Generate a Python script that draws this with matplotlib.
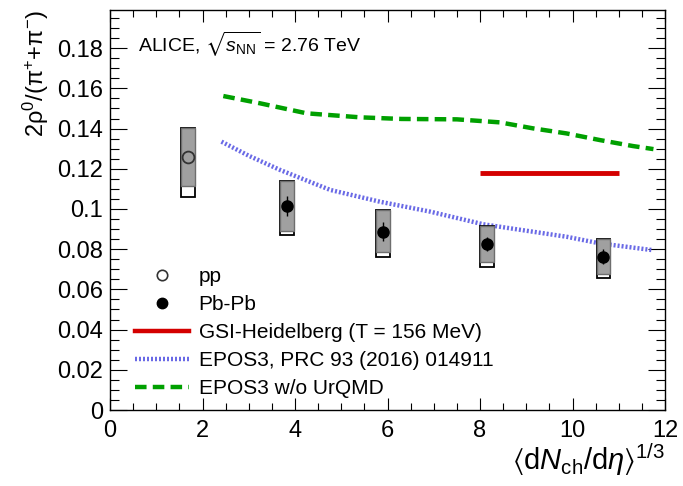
import matplotlib
matplotlib.use("Agg")
import matplotlib.pyplot as plt
from matplotlib.lines import Line2D
from matplotlib.patches import Rectangle
from matplotlib.ticker import MultipleLocator, FuncFormatter

plt.rcParams['font.family'] = ['Liberation Sans', 'DejaVu Sans']
plt.rcParams['mathtext.fontset'] = 'custom'
plt.rcParams['mathtext.rm'] = 'Liberation Sans'
plt.rcParams['mathtext.it'] = 'Liberation Sans:italic'
plt.rcParams['mathtext.bf'] = 'Liberation Sans:bold'
plt.rcParams['mathtext.fallback'] = 'stixsans'

# ---- data ----
pp_x = [1.69]
pp_y = [0.126]
pp_sys_hi = [0.1405]
pp_sys_lo_unc = [0.1114]
pp_sys_lo_tot = [0.1058]

pb_x = [3.82, 5.91, 8.16, 10.67]
pb_y = [0.1015, 0.0887, 0.0826, 0.0763]
pb_stat = [0.0048, 0.0048, 0.0037, 0.0037]
pb_sys_hi = [0.1139, 0.0995, 0.0917, 0.0849]
pb_sys_lo_unc = [0.0892, 0.0785, 0.0736, 0.0675]
pb_sys_lo_tot = [0.0869, 0.0761, 0.0713, 0.0655]

gsi_x = [8.0, 11.0]
gsi_y = [0.1177, 0.1177]

epos_x = [2.41, 3.0, 3.68, 4.76, 5.84, 6.92, 8.07, 9.87, 10.59, 11.71]
epos_y = [0.1335, 0.1265, 0.1194, 0.1095, 0.1036, 0.0987, 0.0924, 0.0862, 0.0829, 0.0796]

eposnu_x = [2.45, 3.24, 4.25, 5.41, 6.3, 7.5, 8.43, 9.15, 9.87, 10.59, 11.31, 11.75]
eposnu_y = [0.1562, 0.1526, 0.1476, 0.1456, 0.1448, 0.1446, 0.1431, 0.1401, 0.1376, 0.1343, 0.1313, 0.1298]

box_halfwidth = 0.15

fig = plt.figure(figsize=(6.83, 4.86), dpi=100)
ax = fig.add_axes([110/683, 76/486, 555/683, 400/486])
ax.set_xlim(0, 12)
ax.set_ylim(0, 0.199)

red = '#d40000'
blue = '#6a6ae6'
green = '#00a000'

# models
ax.plot(eposnu_x, eposnu_y, color=green, lw=3.2, dashes=(2.6, 1.4), solid_capstyle='butt', zorder=2)
ax.plot(epos_x, epos_y, color=blue, lw=3.2, dashes=(0.45, 0.45), zorder=2)
ax.plot(gsi_x, gsi_y, color=red, lw=3.5, solid_capstyle='butt', zorder=2)

def draw_boxes(xs, his, lo_unc, lo_tot):
    for x, hi, lu, lt in zip(xs, his, lo_unc, lo_tot):
        ax.add_patch(Rectangle((x - box_halfwidth, lt), 2*box_halfwidth, hi - lt,
                               facecolor='white', edgecolor='black', lw=1.3, zorder=3))
        ax.add_patch(Rectangle((x - box_halfwidth, lu), 2*box_halfwidth, hi - lu,
                               facecolor='#a0a0a0', edgecolor='#6e6e6e', lw=1.0, zorder=3))

draw_boxes(pp_x, pp_sys_hi, pp_sys_lo_unc, pp_sys_lo_tot)
draw_boxes(pb_x, pb_sys_hi, pb_sys_lo_unc, pb_sys_lo_tot)

ax.errorbar(pb_x, pb_y, yerr=pb_stat, fmt='o', color='black', ms=8, elinewidth=1.0,
            capsize=0, zorder=5)
ax.plot(pp_x, pp_y, 'o', mfc='none', mec='#333333', mew=1.3, ms=8.5, zorder=5)

# axes style
ax.xaxis.set_major_locator(MultipleLocator(2))
ax.xaxis.set_minor_locator(MultipleLocator(0.5))
ax.yaxis.set_major_locator(MultipleLocator(0.02))
ax.yaxis.set_minor_locator(MultipleLocator(0.005))
ax.xaxis.set_major_formatter(FuncFormatter(lambda v, p: '%g' % round(v, 4)))
ax.yaxis.set_major_formatter(FuncFormatter(lambda v, p: '%g' % round(v, 4)))
ax.tick_params(which='both', direction='in', top=True, right=True, color='black', width=0.8)
ax.tick_params(axis='x', which='major', length=8.4, labelsize=17, pad=7)
ax.tick_params(axis='x', which='minor', length=4.8)
ax.tick_params(axis='y', which='major', length=12.2, labelsize=17, pad=5)
ax.tick_params(axis='y', which='minor', length=6.5)
for s in ax.spines.values():
    s.set_linewidth(1.0)

ax.set_ylabel('2ρ$^{0}$/(π$^{+}$+π$^{-}$)', fontsize=17, loc='top', labelpad=4)
ax.set_xlabel(r'$\langle\mathrm{d}N_{\mathrm{ch}}/\mathrm{d}\eta\rangle^{1/3}$', fontsize=21,
              loc='right', labelpad=0)

ax.text(0.05, 0.915, r'ALICE, $\sqrt{s_{\mathrm{NN}}}$ = 2.76 TeV', transform=ax.transAxes,
        fontsize=14, va='center', ha='left')

handles = [
    Line2D([], [], ls='none', marker='o', mfc='none', mec='#333333', mew=1.2, ms=7.5),
    Line2D([], [], ls='none', marker='o', color='black', ms=7.5),
    Line2D([], [], color=red, lw=3.2),
    Line2D([], [], color=blue, lw=3.2, dashes=(0.45, 0.45)),
    Line2D([], [], color=green, lw=3.2, dashes=(2.6, 1.4)),
]
labels = ['pp', 'Pb-Pb', 'GSI-Heidelberg (T = 156 MeV)', 'EPOS3, PRC 93 (2016) 014911', 'EPOS3 w/o UrQMD']
ax.legend(handles, labels, loc='upper left', bbox_to_anchor=(0.045, 0.357), frameon=False,
          fontsize=15, handlelength=2.6, handletextpad=0.45, labelspacing=0.43,
          borderpad=0, borderaxespad=0)

fig.savefig('out.png', dpi=100)
